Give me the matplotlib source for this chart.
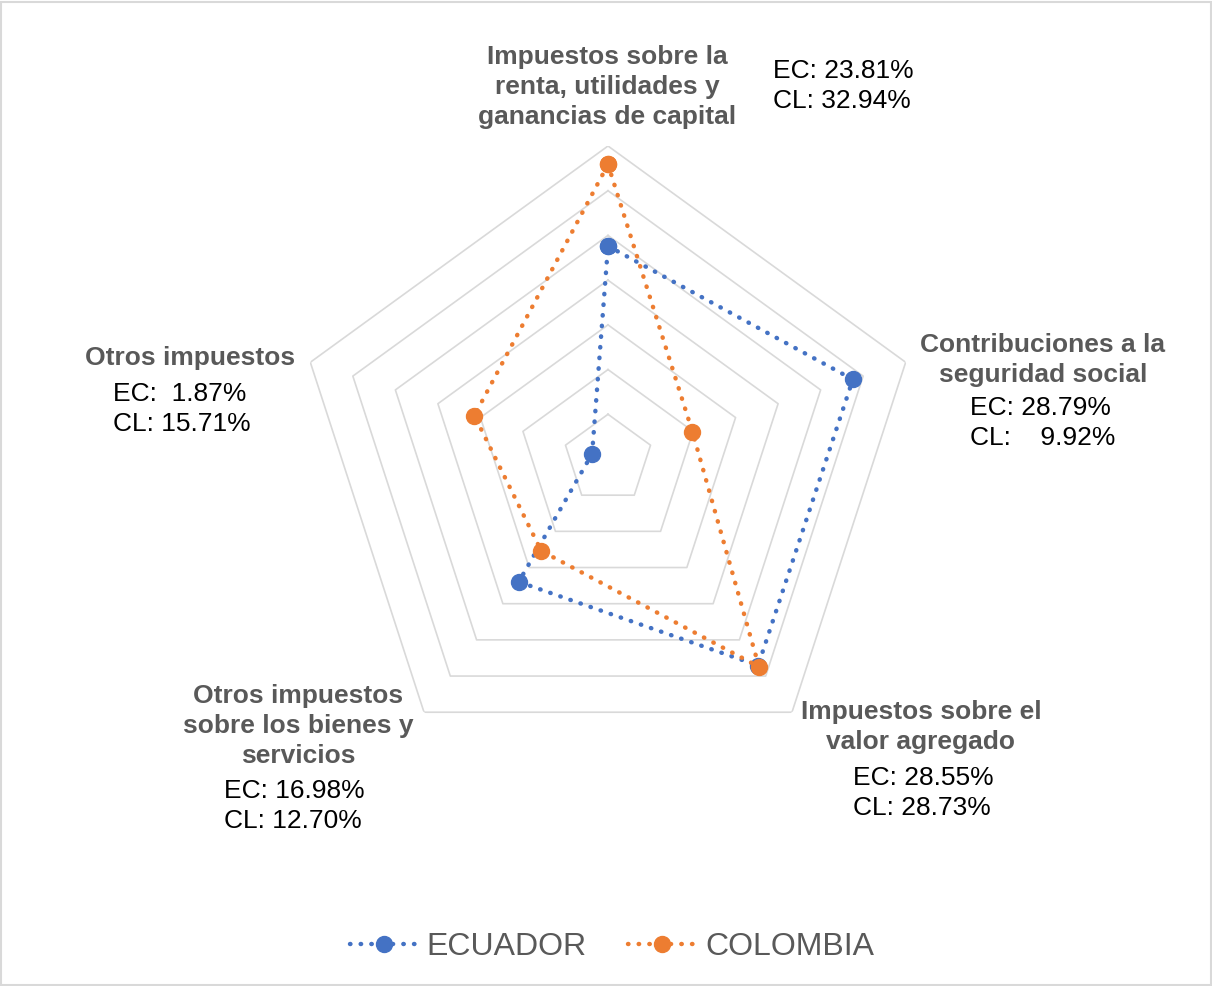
import numpy as np
import matplotlib
matplotlib.use("Agg")
import matplotlib.pyplot as plt
from matplotlib.patches import Rectangle

plt.rcParams["font.family"] = ["Liberation Sans", "DejaVu Sans"]

# Tax structure shares (%) by category
categories = [
    "Impuestos sobre la renta, utilidades y ganancias de capital",
    "Contribuciones a la seguridad social",
    "Impuestos sobre el valor agregado",
    "Otros impuestos sobre los bienes y servicios",
    "Otros impuestos",
]
ecuador = [23.81, 28.79, 28.55, 16.98, 1.87]
colombia = [32.94, 9.92, 28.73, 12.70, 15.71]
rings = [5, 10, 15, 20, 25, 30, 35]

BLUE = "#4472C4"
ORANGE = "#ED7D31"
GRAY = "#595959"
GRID = "#D9D9D9"

W, H = 1212, 986
fig = plt.figure(figsize=(W / 100, H / 100), dpi=100)

# polar axes centred at (608, 459) px with radius 313 px
cx, cy, rad = 608, 459, 313
ax = fig.add_axes([(cx - rad) / W, (H - cy - rad) / H, 2 * rad / W, 2 * rad / H],
                  projection="polar")
ax.set_theta_zero_location("N")
ax.set_theta_direction(-1)
ax.set_ylim(0, 35)
ax.grid(False)
ax.set_xticks([])
ax.set_yticks([])
ax.spines["polar"].set_visible(False)
ax.patch.set_alpha(0)

n = len(categories)
theta = np.arange(n) * 2 * np.pi / n
closed = np.append(theta, theta[0])

for r in rings:
    ax.plot(closed, [r] * (n + 1), color=GRID, lw=1.2, zorder=1)

dots = (0, (0.1, 2.3))
for vals, color, name in [(ecuador, BLUE, "ECUADOR"), (colombia, ORANGE, "COLOMBIA")]:
    v = np.append(vals, vals[0])
    ax.plot(closed, v, color=color, lw=3.2, linestyle=dots, dash_capstyle="round",
            marker="o", markersize=11.5, markeredgecolor=color, label=name, zorder=3)


def px(x, y):
    return x / W, 1 - y / H


lab = dict(fontsize=19, fontweight="bold", color=GRAY, ha="center", va="center",
           linespacing=1.3)
val = dict(fontsize=19, color="black", ha="left", va="center", linespacing=1.3)

fig.text(*px(607, 87), "Impuestos sobre la\nrenta, utilidades y\nganancias de capital", **lab)
fig.text(*px(773, 86), "EC: 23.81%\nCL: 32.94%", **val)

fig.text(*px(1043, 360), "Contribuciones a la\nseguridad social", **lab)
fig.text(*px(970, 423), "EC: 28.79%\nCL:    9.92%", **val)

fig.text(*px(921, 727), "Impuestos sobre el\nvalor agregado", **lab)
fig.text(*px(853, 793), "EC: 28.55%\nCL: 28.73%", **val)

fig.text(*px(298, 726), "Otros impuestos\nsobre los bienes y\nservicios", **lab)
fig.text(*px(224, 806), "EC: 16.98%\nCL: 12.70%", **val)

fig.text(*px(190, 358), "Otros impuestos", **lab)
fig.text(*px(113, 409), "EC:  1.87%\nCL: 15.71%", **val)

handles, labels = ax.get_legend_handles_labels()
leg = fig.legend(handles, labels, loc="center", bbox_to_anchor=px(612, 947), ncol=2,
                 frameon=False, fontsize=23, handlelength=2.1, handletextpad=0.3,
                 columnspacing=1.3)
for t in leg.get_texts():
    t.set_color(GRAY)

fig.add_artist(Rectangle((0.001, 0.001), 0.998, 0.997, transform=fig.transFigure,
                         fill=False, edgecolor=GRID, lw=1.5))

fig.savefig("out.png", dpi=100)
